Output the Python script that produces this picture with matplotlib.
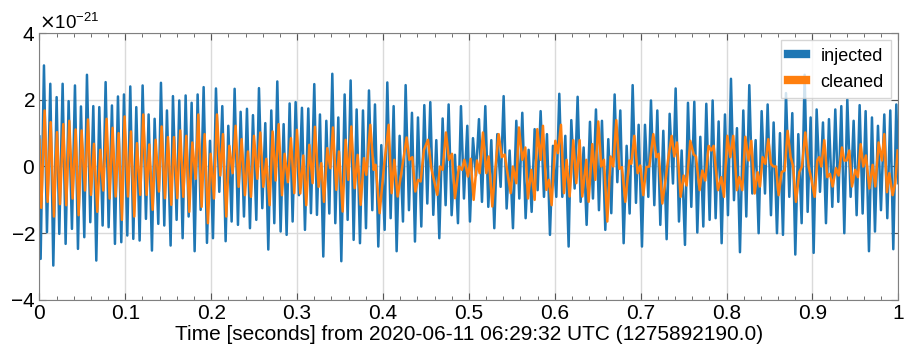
import numpy as np
import matplotlib
matplotlib.use("Agg")
import matplotlib.pyplot as plt
from matplotlib.ticker import MultipleLocator, FuncFormatter

# extrema, time in ms from 2020-06-11 06:29:32 UTC, strain in 1e-21
injected_t_ms = [
    0.0, 1.47, 5.35, 8.84, 12.72, 16.22, 20.10, 23.20, 27.08, 30.57, 34.06, 37.94, 41.44, 44.93,
    48.42, 52.30, 55.40, 59.28, 62.78, 66.27, 69.76, 73.64, 77.13, 80.62, 84.50, 87.99, 91.49,
    95.37, 98.47, 102.35, 105.84, 109.34, 112.83, 116.71, 120.20, 124.08, 127.18, 131.06, 134.17,
    138.44, 141.54, 145.42, 148.52, 152.79, 155.51, 159.78, 162.88,
    166.78, 170.28, 173.77, 177.26, 180.75, 184.24, 187.74, 191.23, 195.11, 198.60, 202.09,
    205.58, 209.46, 212.96, 216.84, 219.94, 223.82, 227.31, 231.19, 234.30, 238.18, 241.67,
    245.16, 248.65, 252.53, 255.64, 259.52, 263.01, 266.50, 269.99, 273.48, 276.98, 280.86,
    284.35, 287.84, 291.33, 294.82, 298.32, 302.20, 305.69, 309.18, 313.06, 316.16, 320.04,
    323.15, 326.64, 330.52,
    334.04, 337.53, 341.02, 344.51, 348.00, 351.50, 355.38, 358.87, 362.36, 365.85, 369.34,
    373.22, 376.72, 380.21, 383.70, 387.58, 390.68, 394.56, 398.06, 401.94, 405.04, 408.92,
    412.41, 415.90, 419.40, 423.28, 426.38, 430.26, 433.75, 437.24, 440.74, 444.62, 448.11,
    451.60, 455.09, 458.58, 462.08, 465.57, 469.45, 472.94, 476.43, 479.92, 483.80, 487.30,
    490.79, 494.28, 498.16,
    501.28, 504.77, 508.26, 511.75, 515.25, 519.13, 522.62, 526.11, 529.60, 533.09, 536.97,
    540.47, 543.96, 547.45, 551.33, 555.21, 558.70, 562.19, 566.07, 569.57, 573.06, 576.55,
    580.04, 583.53, 587.41, 590.91, 594.40, 597.89, 601.77, 605.26, 608.75, 612.25, 616.13,
    619.23, 623.11, 626.60, 630.09, 633.59, 637.08, 640.96, 644.45, 647.94, 651.43, 654.93,
    658.81, 662.30, 665.79,
    669.69, 672.80, 676.29, 680.17, 683.66, 687.15, 690.65, 694.53, 697.63, 701.51, 705.00,
    708.88, 711.99, 715.87, 719.36, 722.85, 726.34, 730.22, 733.72, 737.60, 740.70, 744.58,
    747.69, 751.57, 755.06, 758.94, 762.43, 765.92, 769.41, 772.90, 776.39, 780.27, 783.77,
    787.26, 790.75, 794.24, 798.12, 801.61, 805.11, 808.60, 812.09, 815.58, 819.46, 822.95,
    826.45, 829.94, 833.82,
    837.32, 840.82, 844.70, 847.80, 851.68, 854.78, 858.66, 862.16, 865.65, 869.14, 873.02,
    876.51, 880.00, 883.50, 887.38, 890.87, 894.36, 897.85, 901.34, 904.84, 908.72, 912.21,
    915.70, 919.19, 923.07, 926.56, 930.06, 933.55, 937.04, 940.53, 944.41, 947.90, 951.40,
    954.89, 958.38, 961.87, 965.75, 969.24, 972.74, 976.23, 979.72, 983.60, 987.09, 990.58,
    994.07, 997.57, 1000.0,
]
injected_v = [
    0.9, -2.77, 3.03, -1.97, 2.48, -2.97, 2.08, -2.02, 2.48, -2.32, 1.96, -1.87, 2.43, -2.47,
    1.80, -2.12, 2.75, -1.67, 1.81, -2.82, 1.78, -1.77, 2.53, -1.82, 1.83, -2.32, 2.10,
    -2.27, 2.16, -2.07, 2.40, -2.17, 1.78, -2.22, 2.43, -1.57, 1.56, -2.52, 1.43,
    -1.72, 2.51, -1.77, 1.68, -2.37, 2.11, -1.60, 1.98,
    -2.15, 2.13, -1.50, 1.91, -2.54, 2.16, -1.30, 2.38, -2.29, 0.77, -2.15,
    2.34, -0.76, 1.81, -2.24, 1.22, -1.65, 2.33, -1.75, 1.64, -1.50, 1.73,
    -1.85, 1.54, -1.60, 2.35, -1.25, 1.30, -2.49, 1.68, -1.70, 2.55, -1.95,
    1.27, -2.05, 1.89, -1.65, 1.93, -0.86, 1.76, -1.90, 1.74, -1.40, 2.47,
    -1.45, 1.56, -2.70,
    1.37, -1.41, 2.78, -1.70, 1.47, -2.84, 2.16, -1.60, 2.58, -2.20, 1.71,
    -2.30, 1.68, -1.85, 2.28, -1.31, 1.86, -2.40, 0.64, -1.90, 2.52, -1.55,
    1.81, -2.54, 0.92, -1.65, 2.44, -1.31, 1.61, -2.25, 1.47, -1.80, 1.84,
    -1.11, 1.93, -1.45, 0.79, -2.15, 1.44, -1.16, 1.86, -1.46, 0.35, -1.70,
    1.81, -0.96, 1.22,
    -1.65, 0.85, -0.27, 1.42, -1.06, 1.81, -1.21, 0.79, -1.85, 0.97, -0.61,
    2.11, -1.26, 0.48, -1.85, 1.37, -0.96, 1.61, -1.55, 0.50, -1.36, 1.12,
    -0.71, 1.66, -0.91, 0.97, -2.05, 0.62, -0.91, 2.18, -0.91, 0.92, -2.40,
    1.39, -0.66, 2.09, -1.06, 0.57, -1.75, 1.34, -0.96, 1.71, -1.31, 1.37,
    -1.90, 0.82, -1.40,
    2.16, -0.47, 1.68, -2.30, 0.62, -1.41, 2.44, -1.09, 1.25, -2.40, 1.25,
    -0.91, 1.98, -1.16, 1.68, -1.75, 1.07, -2.18, 1.58, -0.51, 2.34, -1.65,
    0.48, -2.35, 1.91, -1.21, 1.94, -1.98, 0.89, -1.80, 1.88, -1.60, 1.98,
    -1.55, 1.35, -2.30, 1.56, -1.46, 2.63, -1.01, 1.15, -2.57, 1.68, -1.50,
    2.44, -0.81, 0.79,
    -2.00, 1.66, -0.81, 1.86, -1.46, 1.32, -2.00, 1.00, -2.05, 2.20, -0.91,
    1.60, -2.64, 0.97, -1.70, 2.75, -1.36, 1.47, -2.59, 1.71, -0.76, 1.32,
    -1.70, 1.42, -1.21, 1.71, -1.06, 1.81, -2.00, 2.01, -0.91, 1.37, -1.46,
    1.84, -1.41, 1.66, -2.54, 1.47, -1.95, 1.22, -1.31, 1.56, -1.55, 1.68,
    -2.48, 1.86, -0.50,
]

cleaned_t_ms = [
    0.0, 2.25, 6.13, 9.62, 13.11, 16.99, 20.48, 23.98, 27.86, 31.35, 34.84, 38.72, 42.21, 45.70,
    49.20, 53.08, 56.57, 60.06, 63.55, 67.43, 70.92, 74.42, 78.30, 81.79, 85.28, 88.77, 92.26,
    96.14, 99.25, 103.13, 106.62, 110.50, 113.60, 117.48, 120.98, 124.86, 127.96, 131.84, 135.33,
    139.21, 142.32, 146.20, 149.69, 153.57, 156.67, 160.55, 164.04,
    167.56, 171.05, 174.54, 178.04, 181.92, 185.02, 188.90, 192.39, 196.27, 199.38, 203.26,
    206.75, 210.63, 213.73, 217.61, 221.10, 224.98, 228.48, 231.97, 235.46, 239.34, 242.83,
    246.32, 249.82, 253.70, 257.19, 260.68, 264.17, 268.05, 271.54, 275.04, 278.53, 282.41,
    285.51, 289.39, 292.88, 296.76, 299.87, 303.75, 307.24, 310.73, 314.22, 318.10, 320.82,
    325.09, 328.19, 331.30,
    335.20, 338.69, 341.80, 345.68, 348.78, 353.05, 356.54, 359.64, 363.14, 367.02, 370.51,
    374.00, 377.88, 380.60, 385.25, 389.13, 391.46, 396.12, 401.16, 406.59, 410.08, 413.19,
    417.07, 421.34, 427.54, 430.65, 434.14, 437.63, 440.74, 443.84, 447.72, 452.38, 456.26,
    463.24, 466.34, 469.45, 473.33, 476.82, 480.31, 483.80, 488.46, 491.95, 494.67, 498.94,
    502.05, 505.55, 509.43, 512.53, 516.41, 520.29, 523.01, 527.27, 530.77, 534.65, 538.53,
    541.63, 548.61, 551.33, 555.21, 558.31, 562.19, 565.69, 568.79, 572.67, 576.55, 579.65,
    583.53, 586.25, 590.13, 593.23, 596.34, 600.61, 603.71, 607.20, 610.69, 613.80, 617.29,
    621.56, 625.05, 628.93, 632.03, 636.69, 639.41, 643.67, 647.17, 650.66, 654.15, 657.25,
    661.13, 665.01, 668.12,
    671.63, 675.13, 678.23, 682.11, 686.77, 689.09, 692.59, 696.47, 699.57, 703.06, 706.55,
    710.05, 714.70, 718.19, 720.91, 725.18, 728.67, 731.77, 736.04, 739.15, 742.25, 746.52,
    750.01, 753.50, 757.77, 761.65, 764.37, 768.63, 771.74, 775.23, 779.11, 782.21, 784.93,
    789.97, 793.85, 796.96, 800.84, 804.33, 807.82, 812.09, 814.81, 818.30, 821.79, 825.67,
    828.78, 832.66, 836.15,
    838.88, 841.98, 845.08, 848.58, 851.68, 854.40, 857.50, 860.60, 864.10, 867.59, 871.08,
    874.57, 877.29, 880.78, 884.66, 887.76, 891.64, 895.52, 898.63, 902.51, 905.61, 907.94,
    910.27, 913.76, 917.25, 920.36, 923.46, 927.34, 930.44, 934.32, 937.04, 939.76, 942.86,
    945.97, 949.85, 952.95, 956.05, 959.16, 962.26, 966.14, 970.02, 973.12, 977.00, 980.88,
    983.60, 986.70, 989.42, 993.30, 996.40, 999.10,
]
cleaned_v = [
    0.8, -1.24, 1.68, -1.06, 1.33, -1.50, 1.03, -1.13, 1.27, -1.16, 1.37, -0.96, 1.11, -1.46,
    1.08, -0.72, 1.41, -0.85, 0.68, -1.36, 0.50, -0.72, 1.43, -0.96, 1.16, -0.90, 1.00,
    -1.60, 1.50, -0.90, 1.05, -1.50, 0.70, -0.85, 1.56, -0.85, 0.66, -1.30, 0.80,
    -0.75, 1.20, -0.95, 0.88, -1.15, 0.88, -0.95, 1.08,
    -0.91, 0.92, -1.36, 0.72, -0.37, 1.56, -1.21, 0.97, -1.70, 0.38, -0.96,
    1.56, -0.27, 0.97, -1.50, 0.62, -0.20, 1.22, -0.61, 0.82, -0.86, 0.45,
    -0.91, 0.92, -0.37, 1.02, -0.61, 0.23, -1.16, 1.05, -0.42, 1.27, -0.86,
    0.38, -0.47, 0.85, -0.80, 1.10, -0.81, 0.33, -1.16, 0.65, -0.50, 1.19,
    -0.61, 0.10, -1.06,
    0.55, -0.05, 1.17, -0.70, 0.45, -1.35, 0.80, -0.40, 1.20, -0.65, 0.35,
    -1.15, 0.25, -0.25, 1.25, -0.10, 0.05, -1.40, 0.00, 1.25, -0.80, 0.20,
    -0.90, -0.20, 0.87, 0.20, 0.28, -0.75, -0.40, -0.45, 0.50, 0.80, -0.05,
    -0.85, 0.00, -0.10, 1.02, 0.20, 0.38, -0.95, 0.00, -0.10, 0.20, -0.30,
    0.23, -1.00, 0.18, -0.20, 1.02, -0.20, 0.30, -1.20, -0.07, 0.97, 0.28,
    0.36, -0.80, 0.00, -0.50, 1.17, 0.20, 0.57, -0.96, -0.10, -1.00, 1.12,
    0.20, 1.22, -0.70, -0.40, -1.16, 0.77, 0.40, 1.25, -0.80, 0.20, -0.90,
    0.79, -0.50, 0.79, -0.90, 0.20, -1.06, 0.67, -0.40, 1.35, 0.00, 0.20,
    -1.65, 0.30, 0.00,
    1.39, -0.07, -0.02, -1.06, 0.18, 0.08, 0.92, -0.20, 0.03, -0.86, -0.02,
    0.00, 0.97, 0.28, 0.38, -1.11, -0.47, 0.18, 0.92, 0.30, 0.72, -0.91,
    -0.27, -0.57, 0.77, 0.36, 0.30, -0.71, -0.12, -0.42, 0.62, 0.48, 0.62,
    -0.71, -0.32, -0.91, 0.92, 0.28, 0.92, -0.71, -0.32, -0.71, 0.89, 0.18,
    0.77, -0.81, -0.17,
    -0.60, 0.28, 0.08, 0.82, 0.08, 0.00, 0.00, -0.86, -0.17, -0.12, 1.07,
    0.28, 0.03, -1.06, -0.17, 0.00, 1.02, 0.00, -0.37, -0.91, 0.18, 0.28,
    0.00, 0.79, -0.32, -0.22, -0.60, -0.05, -0.27, 0.57, 0.18, 0.18, 0.48,
    -0.60, -0.10, -0.32, 0.67, 0.00, 0.33, -0.66, 0.05, -0.60, 0.72, 0.18,
    0.97, -0.77, -0.20, -0.86, -0.50, 0.48,
]

epoch_label = "Time [seconds] from 2020-06-11 06:29:32 UTC (1275892190.0)"

t_inj = np.array(injected_t_ms) / 1000.0
h_inj = np.array(injected_v) * 1e-21
t_cln = np.array(cleaned_t_ms) / 1000.0
h_cln = np.array(cleaned_v) * 1e-21

plt.rcParams["font.family"] = ["Liberation Sans", "DejaVu Sans"]
plt.rcParams["axes.formatter.use_mathtext"] = True

fig = plt.figure(figsize=(9.07, 3.52), dpi=100)
ax = fig.add_axes([0.0434, 0.148, 0.9471, 0.758])

ax.plot(t_inj, h_inj, color="#1f77b4", lw=1.8, label="injected")
ax.plot(t_cln, h_cln, color="#ff7f0e", lw=1.8, label="cleaned")

ax.set_xlim(0, 1)
ax.set_ylim(-4e-21, 4e-21)
ax.xaxis.set_major_locator(MultipleLocator(0.1))
ax.xaxis.set_minor_locator(MultipleLocator(0.02))
ax.yaxis.set_major_locator(MultipleLocator(2e-21))
ax.xaxis.set_major_formatter(FuncFormatter(lambda v, p: "%g" % round(v, 3)))
ax.ticklabel_format(axis="y", style="sci", scilimits=(0, 0))
ax.yaxis.get_offset_text().set_fontsize(13.5)

ax.tick_params(which="both", direction="in", top=True, right=True, labelsize=15,
               color="#555555", pad=3)
ax.tick_params(which="major", length=5)
ax.tick_params(which="minor", length=3)
ax.grid(True, which="major", color="#dadada", lw=1.0)
ax.set_axisbelow(True)
for sp in ax.spines.values():
    sp.set_color("#808080")

ax.set_xlabel(epoch_label, fontsize=15, labelpad=1.5)

leg = ax.legend(loc="upper right", fontsize=13, handlelength=1.0, framealpha=0.8,
                edgecolor="#cccccc", fancybox=False, borderaxespad=0.4)
for h in leg.get_lines():
    h.set_linewidth(6)

fig.savefig("out.png", dpi=100)
